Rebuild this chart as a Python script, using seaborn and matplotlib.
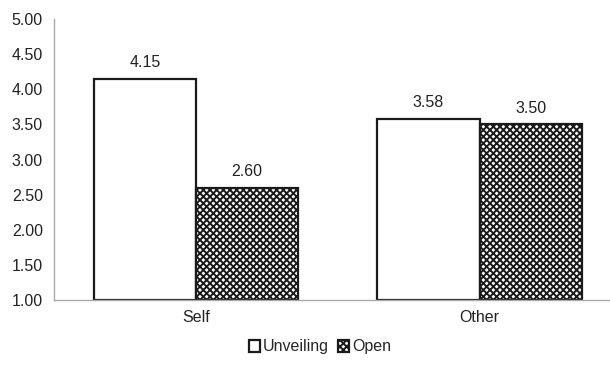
import matplotlib
matplotlib.use("Agg")
import matplotlib.pyplot as plt
import seaborn as sns
import pandas as pd
from matplotlib.patches import Patch

categories = ["Self", "Other"]
conditions = ["Unveiling", "Open"]
unveiling = [4.15, 3.58]
open_vals = [2.60, 3.50]
y_ticks = [1.00, 1.50, 2.00, 2.50, 3.00, 3.50, 4.00, 4.50, 5.00]

df = pd.DataFrame({
    "target": categories * 2,
    "condition": [conditions[0]] * 2 + [conditions[1]] * 2,
    "score": unveiling + open_vals,
})

sns.set_theme(style="white")
plt.rcParams["font.family"] = ["Liberation Sans", "DejaVu Sans"]
plt.rcParams["hatch.linewidth"] = 1.4

FS = 11.5
TXT = "#222222"

fig = plt.figure(figsize=(6.10, 3.71), dpi=100)
ax = fig.add_axes([54 / 610, 1 - 300 / 371, 1 - 54 / 610, (300 - 19) / 371])

base = 1.0
df["height"] = df["score"] - base
sns.barplot(data=df, x="target", y="height", hue="condition", bottom=base,
            order=categories, hue_order=conditions, width=0.72,
            palette=["white", "white"], edgecolor="#1a1a1a", linewidth=1.6,
            legend=False, ax=ax)

for bar, cond in zip(ax.patches, [c for c in conditions for _ in categories]):
    if cond == "Open":
        bar.set_hatch("xxxxx")
    h = bar.get_y() + bar.get_height()
    ax.text(bar.get_x() + bar.get_width() / 2, h + 0.12, f"{h:.2f}",
            ha="center", va="bottom", fontsize=FS, color=TXT)

ax.set_ylim(1.0, 5.0)
ax.set_xlim(-0.5, 1.46)
ax.set_yticks(y_ticks)
ax.set_yticklabels([f"{v:.2f}" for v in y_ticks], fontsize=FS, color=TXT)
ax.tick_params(axis="x", labelsize=FS, labelcolor=TXT, length=0, pad=7)
ax.tick_params(axis="y", length=0, pad=8)
ax.set_xlabel("")
ax.set_ylabel("")
for side in ["top", "right"]:
    ax.spines[side].set_visible(False)
for side in ["left", "bottom"]:
    ax.spines[side].set_color("#aaaaaa")
    ax.spines[side].set_linewidth(1.0)

handles = [
    Patch(facecolor="white", edgecolor="#1a1a1a", linewidth=1.6, label="Unveiling"),
    Patch(facecolor="white", edgecolor="#1a1a1a", linewidth=1.6, hatch="xxxxx", label="Open"),
]
fig.legend(handles=handles, loc="center", bbox_to_anchor=(320 / 610, 1 - 347 / 371),
           ncol=2, frameon=False, fontsize=FS, handlelength=0.7, handleheight=0.7,
           handletextpad=0.15, columnspacing=0.6)

fig.savefig("out.png", dpi=100)
